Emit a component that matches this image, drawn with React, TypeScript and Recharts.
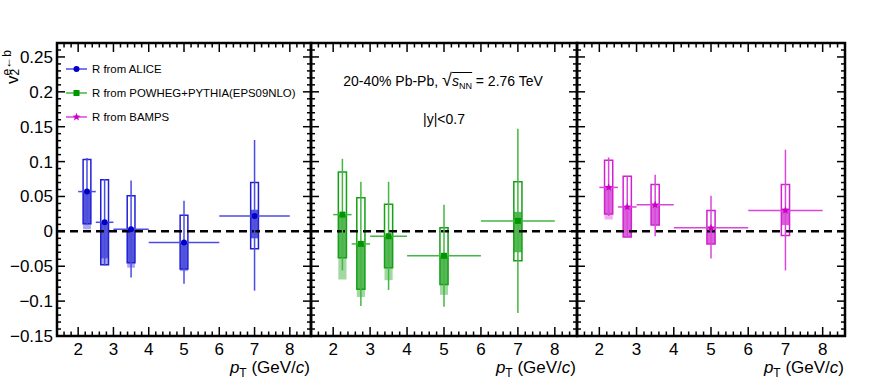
import React from 'react';
import {
  ComposedChart,
  XAxis,
  YAxis,
  Scatter,
  ErrorBar,
  ReferenceArea,
  ReferenceLine,
  Legend,
} from 'recharts';

const FONT = '"Liberation Sans", Arial, Helvetica, sans-serif';
const W = 872;
const H = 392;
const PLOT_TOP = 43;
const PLOT_BOTTOM = 336;
const X_DOMAIN = [1.4, 8.6];
const Y_DOMAIN = [-0.15, 0.27];
const BOX_HALF = 0.11;

// pT bins (GeV/c)
const ptCenter = [2.25, 2.75, 3.5, 5, 7];
const ptLow = [2, 2.5, 3, 4, 6];
const ptHigh = [2.5, 3, 4, 6, 8];

// ticks
const xMajorTicks = [2, 3, 4, 5, 6, 7, 8];
const xTickLabels = ['2', '3', '4', '5', '6', '7', '8'];
const yMajorTicks = [-0.15, -0.1, -0.05, 0, 0.05, 0.1, 0.15, 0.2, 0.25];
const yTickLabels = ['\u22120.15', '\u22120.1', '\u22120.05', '0', '0.05', '0.1', '0.15', '0.2', '0.25'];
const xTicks = Array.from({ length: 35 }, (_, i) => Math.round((1.6 + i * 0.2) * 10) / 10);
const yTicks = Array.from({ length: 42 }, (_, i) => Math.round((-0.14 + i * 0.01) * 100) / 100);

// R from ALICE
const aliceV2 = [0.057, 0.013, 0.003, -0.016, 0.022];
const aliceStatLo = [0.01, -0.049, -0.066, -0.075, -0.085];
const aliceStatHi = [0.105, 0.075, 0.073, 0.044, 0.131];
const aliceSysLo = [0.011, -0.048, -0.045, -0.054, -0.025];
const aliceSysHi = [0.103, 0.074, 0.051, 0.023, 0.07];
const aliceRLo = [0.011, -0.039, -0.045, -0.054, -0.01];
const aliceRHi = [0.057, 0.013, 0.003, -0.016, 0.031];
const aliceExtLo = [0.003, -0.047, -0.052, -0.057, null];
const aliceExtHi = [0.011, -0.039, -0.045, -0.054, null];

// R from POWHEG+PYTHIA(EPS09NLO)
const powhegV2 = [0.024, -0.018, -0.007, -0.035, 0.015];
const powhegStatLo = [-0.056, -0.107, -0.084, -0.108, -0.117];
const powhegStatHi = [0.104, 0.071, 0.071, 0.038, 0.147];
const powhegSysLo = [-0.038, -0.083, -0.052, -0.076, -0.042];
const powhegSysHi = [0.085, 0.048, 0.039, 0.005, 0.071];
const powhegRLo = [-0.038, -0.083, -0.052, -0.076, -0.03];
const powhegRHi = [0.024, -0.018, -0.007, -0.035, 0.028];
const powhegExtLo = [-0.069, -0.094, -0.07, -0.091, null];
const powhegExtHi = [-0.038, -0.083, -0.052, -0.076, null];

// R from BAMPS
const bampsV2 = [0.063, 0.035, 0.038, 0.005, 0.03];
const bampsStatLo = [0.022, -0.009, -0.007, -0.039, -0.056];
const bampsStatHi = [0.106, 0.079, 0.081, 0.051, 0.117];
const bampsSysLo = [0.025, -0.008, 0.009, -0.018, -0.006];
const bampsSysHi = [0.102, 0.079, 0.067, 0.03, 0.067];
const bampsRLo = [0.025, -0.008, 0.009, -0.018, 0.009];
const bampsRHi = [0.063, 0.035, 0.038, 0.005, 0.033];
const bampsExtLo = [0.017, null, null, null, null];
const bampsExtHi = [0.025, null, null, null, null];

const series = [
  {
    name: 'R from ALICE', marker: 'circle',
    v2: aliceV2, statLo: aliceStatLo, statHi: aliceStatHi, sysLo: aliceSysLo, sysHi: aliceSysHi,
    rLo: aliceRLo, rHi: aliceRHi, extLo: aliceExtLo, extHi: aliceExtHi,
    color: '#0000c8', line: '#4c4ce2', box: '#2020d4', fill: '#5656db', ext: '#a8a8ef',
    left: 57, right: 311,
  },
  {
    name: 'R from POWHEG+PYTHIA(EPS09NLO)', marker: 'square',
    v2: powhegV2, statLo: powhegStatLo, statHi: powhegStatHi, sysLo: powhegSysLo, sysHi: powhegSysHi,
    rLo: powhegRLo, rHi: powhegRHi, extLo: powhegExtLo, extHi: powhegExtHi,
    color: '#009600', line: '#44b644', box: '#16a016', fill: '#58b858', ext: '#a2d8a2',
    left: 311, right: 577,
  },
  {
    name: 'R from BAMPS', marker: 'star',
    v2: bampsV2, statLo: bampsStatLo, statHi: bampsStatHi, sysLo: bampsSysLo, sysHi: bampsSysHi,
    rLo: bampsRLo, rHi: bampsRHi, extLo: bampsExtLo, extHi: bampsExtHi,
    color: '#c800c8', line: '#da46da', box: '#d020d0', fill: '#da62da', ext: '#f0b0f0',
    left: 577, right: 845,
  },
];

const isMajor = (v, majors) => majors.some((m) => Math.abs(m - v) < 1e-6);

function Marker({ kind, cx, cy, color }) {
  if (kind === 'square') return <rect x={cx - 3} y={cy - 3} width={6} height={6} fill={color} />;
  if (kind === 'star') {
    const pts = [];
    for (let i = 0; i < 10; i++) {
      const r = i % 2 === 0 ? 4.2 : 1.8;
      const a = -Math.PI / 2 + (i * Math.PI) / 5;
      pts.push(`${cx + r * Math.cos(a)},${cy + r * Math.sin(a)}`);
    }
    return <polygon points={pts.join(' ')} fill={color} />;
  }
  return <circle cx={cx} cy={cy} r={3} fill={color} />;
}

function LeftLabel({ x, y, payload }) {
  const i = yMajorTicks.findIndex((m) => Math.abs(m - payload.value) < 1e-6);
  return (
    <text x={x - 4} y={y + 6} textAnchor="end" fontSize={17} fontFamily={FONT} fill="#000">
      {yTickLabels[i]}
    </text>
  );
}

function BottomLabel({ x, y, payload }) {
  const i = xMajorTicks.findIndex((m) => Math.abs(m - payload.value) < 1e-6);
  return (
    <text x={x} y={y + 19} textAnchor="middle" fontSize={17} fontFamily={FONT} fill="#000">
      {xTickLabels[i]}
    </text>
  );
}

function renderLegend() {
  return (
    <div style={{ fontFamily: FONT, fontSize: 11.4, color: '#000' }}>
      {series.map((s) => (
        <div key={s.name} style={{ display: 'flex', alignItems: 'center', height: 24 }}>
          <svg width={22} height={12}>
            <line x1={0} x2={21} y1={6} y2={6} stroke={s.line} strokeWidth={1.5} />
            <Marker kind={s.marker} cx={10.5} cy={6} color={s.color} />
          </svg>
          <span style={{ marginLeft: 4, whiteSpace: 'nowrap' }}>{s.name}</span>
        </div>
      ))}
    </div>
  );
}

function Panel({ s, first }) {
  const rows = ptCenter.map((pt, i) => ({
    pt,
    ptLo: ptLow[i],
    ptHi: ptHigh[i],
    v2: s.v2[i],
    statLo: s.statLo[i],
    statHi: s.statHi[i],
    sysLo: s.sysLo[i],
    sysHi: s.sysHi[i],
    rLo: s.rLo[i],
    rHi: s.rHi[i],
    extLo: s.extLo[i],
    extHi: s.extHi[i],
  }));
  const yAxisW = first ? s.left : 0;
  // tick lengths in data units (pixels -> axis units)
  const pxPerX = (s.right - s.left) / (X_DOMAIN[1] - X_DOMAIN[0]);
  const pxPerY = (PLOT_BOTTOM - PLOT_TOP) / (Y_DOMAIN[1] - Y_DOMAIN[0]);
  const tk = { stroke: '#000', strokeWidth: 1.5, ifOverflow: 'visible' };
  return (
    <div style={{ position: 'absolute', left: 0, top: 0 }}>
      <ComposedChart
        width={W}
        height={H}
        margin={{ top: PLOT_TOP, right: W - s.right, bottom: 0, left: s.left - yAxisW }}
      >
        <XAxis
          type="number"
          dataKey="pt"
          domain={X_DOMAIN}
          ticks={xMajorTicks}
          interval={0}
          allowDataOverflow
          height={H - PLOT_BOTTOM}
          tickSize={0}
          tickMargin={0}
          axisLine={false}
          tickLine={false}
          tick={(p) => <BottomLabel {...p} />}
        />
        <YAxis
          type="number"
          domain={Y_DOMAIN}
          ticks={yMajorTicks}
          interval={0}
          allowDataOverflow
          hide={!first}
          width={yAxisW}
          tickSize={0}
          tickMargin={0}
          axisLine={false}
          tickLine={false}
          tick={(p) => <LeftLabel {...p} />}
        />
        {rows.map((r, i) =>
          r.extLo != null ? (
            <ReferenceArea
              key={`ext${i}`}
              x1={r.pt - BOX_HALF}
              x2={r.pt + BOX_HALF}
              y1={r.extLo}
              y2={r.extHi}
              fill={s.ext}
              fillOpacity={1}
              stroke="none"
            />
          ) : null
        )}
        {rows.map((r, i) => (
          <ReferenceArea
            key={`r${i}`}
            x1={r.pt - BOX_HALF}
            x2={r.pt + BOX_HALF}
            y1={r.rLo}
            y2={r.rHi}
            fill={s.fill}
            fillOpacity={1}
            stroke="none"
          />
        ))}
        {rows.map((r, i) => (
          <ReferenceArea
            key={`sys${i}`}
            x1={r.pt - BOX_HALF}
            x2={r.pt + BOX_HALF}
            y1={r.sysLo}
            y2={r.sysHi}
            fill="none"
            stroke={s.box}
            strokeWidth={1.5}
          />
        ))}
        <ReferenceLine y={0} stroke="#000" strokeWidth={2.5} strokeDasharray="8 5" />
        {xTicks.map((v) => {
          const len = (isMajor(v, xMajorTicks) ? 9 : 4.5) / pxPerY;
          return [
            <ReferenceLine
              key={`xb${v}`}
              segment={[{ x: v, y: Y_DOMAIN[0] }, { x: v, y: Y_DOMAIN[0] + len }]}
              {...tk}
            />,
            <ReferenceLine
              key={`xt${v}`}
              segment={[{ x: v, y: Y_DOMAIN[1] }, { x: v, y: Y_DOMAIN[1] - len }]}
              {...tk}
            />,
          ];
        })}
        {yTicks.map((v) => {
          const len = (isMajor(v, yMajorTicks) ? 8 : 4) / pxPerX;
          return [
            <ReferenceLine
              key={`yl${v}`}
              segment={[{ x: X_DOMAIN[0], y: v }, { x: X_DOMAIN[0] + len, y: v }]}
              {...tk}
            />,
            <ReferenceLine
              key={`yr${v}`}
              segment={[{ x: X_DOMAIN[1], y: v }, { x: X_DOMAIN[1] - len, y: v }]}
              {...tk}
            />,
          ];
        })}
        <Scatter
          data={rows}
          dataKey="v2"
          isAnimationActive={false}
          shape={(p) => <Marker kind={s.marker} cx={p.cx} cy={p.cy} color={s.color} />}
        >
          <ErrorBar
            direction="y"
            dataKey={(r) => [r.v2 - r.statLo, r.statHi - r.v2]}
            stroke={s.line}
            strokeWidth={1.5}
            width={0}
            isAnimationActive={false}
          />
          <ErrorBar
            direction="x"
            dataKey={(r) => [r.pt - r.ptLo, r.ptHi - r.pt]}
            stroke={s.line}
            strokeWidth={1.5}
            width={0}
            isAnimationActive={false}
          />
        </Scatter>
        <ReferenceArea
          x1={X_DOMAIN[0]}
          x2={X_DOMAIN[1]}
          y1={Y_DOMAIN[0]}
          y2={Y_DOMAIN[1]}
          fill="none"
          stroke="#000"
          strokeWidth={2.5}
          ifOverflow="visible"
        />
        {first && (
          <Legend
            layout="vertical"
            align="center"
            verticalAlign="middle"
            wrapperStyle={{ left: 66, top: 57, width: 240 }}
            content={renderLegend}
          />
        )}
      </ComposedChart>
    </div>
  );
}

export default function App() {
  return (
    <div style={{ position: 'absolute', left: 0, top: 0, width: W, height: H, background: '#fff' }}>
      {series.map((s, i) => (
        <Panel key={s.name} s={s} first={i === 0} />
      ))}
      <svg
        width={W}
        height={H}
        style={{ position: 'absolute', left: 0, top: 0, pointerEvents: 'none' }}
        fontFamily={FONT}
      >
        <text transform="translate(18,84) rotate(-90)" fontSize={17} fill="#000">
          v
          <tspan fontSize={12} dy={1}>2</tspan>
          <tspan fontSize={12} dx={-6.7} dy={-8}>e{'\u2190'}b</tspan>
        </text>
        {series.map((s) => (
          <text key={s.name} x={s.right - 1} y={373} textAnchor="end" fontSize={17} fill="#000">
            <tspan fontStyle="italic">p</tspan>
            <tspan fontSize={12} dy={4}>T</tspan>
            <tspan dy={-4}> (GeV/</tspan>
            <tspan fontStyle="italic">c</tspan>
            <tspan>)</tspan>
          </text>
        ))}
        <text x={444} y={124} textAnchor="middle" fontSize={14} fill="#000">
          |y|&lt;0.7
        </text>
      </svg>
      <div
        style={{
          position: 'absolute',
          left: 443,
          top: 72,
          transform: 'translateX(-50%)',
          whiteSpace: 'nowrap',
          fontFamily: FONT,
          fontSize: 14,
          lineHeight: '16px',
          color: '#000',
        }}
      >
        20-40% Pb-Pb,{' '}
        <span style={{ fontSize: 18 }}>{'\u221A'}</span>
        <span style={{ borderTop: '1px solid #000' }}>
          <i>s</i>
          <span style={{ fontSize: 9, position: 'relative', top: 3 }}>NN</span>
        </span>{' '}
        = 2.76 TeV
      </div>
    </div>
  );
}
